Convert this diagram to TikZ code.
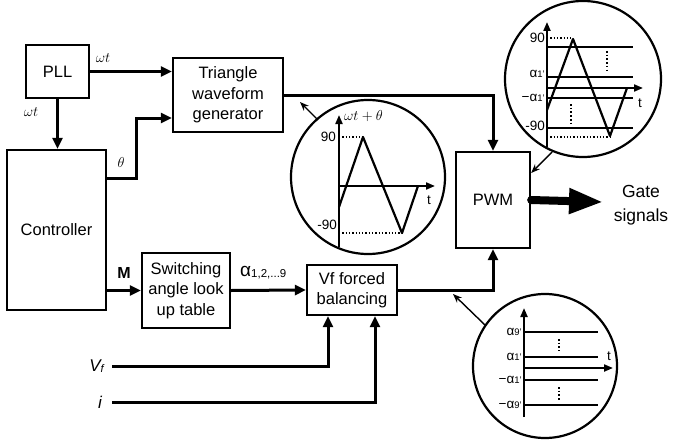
\documentclass[tikz,border=0pt]{standalone}
\usepackage{fontspec}
\setmainfont{Liberation Sans}
\usetikzlibrary{arrows.meta,calc}
\begin{document}
\begin{tikzpicture}[x=1pt,y=-1pt,
  box/.style={draw,line width=2.3pt,align=center,inner sep=0pt,font=\fontsize{16.5}{20.5}\selectfont},
  wire/.style={line width=3pt,-{Triangle[length=11pt,width=10pt]}},
  thinarrow/.style={line width=1.4pt,-{Stealth[length=9pt,width=7pt]}},
  ring/.style={draw,line width=2.2pt},
  axis/.style={line width=2pt,-{Triangle[length=9pt,width=7pt]}},
  level/.style={line width=2.2pt},
  dotline/.style={line width=1.3pt,dotted},
  lbl/.style={inner sep=0pt,font=\fontsize{15}{15}\selectfont},
  small/.style={inner sep=0pt,font=\fontsize{13.5}{13.5}\selectfont}]
\useasboundingbox (0,0) rectangle (674,444);
\fill[white] (0,0) rectangle (674,444);

% blocks
\node[box,minimum width=63,minimum height=53] (pll) at (57.5,71.5) {PLL};
\node[box,minimum width=110,minimum height=74] (tri) at (228,95) {Triangle\\waveform\\generator};
\node[box,minimum width=99,minimum height=160] (ctrl) at (56.5,230) {Controller};
\node[box,minimum width=88,minimum height=75] (sw) at (186,290.5) {Switching\\angle look\\up table};
\node[box,minimum width=90,minimum height=50] (vf) at (352,290) {Vf forced\\balancing};
\node[box,minimum width=74,minimum height=96] (pwm) at (493,200) {PWM};

% connectors
\draw[wire] (pll.east) -- (pll.east -| tri.west);
\draw[wire] (pll.south) -- (pll.south |- ctrl.north);
\draw[wire] ([yshift=-30pt]ctrl.north east) -- ++(29,0) |- ([yshift=-23pt]tri.west);
\draw[wire] (tri.east) -| (pwm.north);
\draw[wire] (sw.west -| ctrl.east) -- (sw.west);
\draw[wire] (sw.east) -- (vf.west);
\draw[wire] (vf.east) -| (pwm.south);
\coordinate (vfin) at (112,366);
\coordinate (iin) at (112,402);
\draw[wire] (vfin) -| ([xshift=-24pt]vf.south);
\draw[wire] (iin) -| ([xshift=23pt]vf.south);
\coordinate (gate) at (603,202);
\draw[line width=8pt,line cap=round,-{Triangle[length=34pt,width=24pt]}] (pwm.east) -- (gate);

% labels
\node[lbl] (l1) at (103,58) {$\omega t$};
\node[lbl] (l2) at (31,112) {$\omega t$};
\node[lbl] (l3) at (121,162) {$\theta$};
\node[inner sep=0pt,font=\bfseries\fontsize{16}{16}\selectfont] (l4) at (124,273) {M};
\node[inner sep=0pt,anchor=west] (l5) at (240,273) {\fontsize{19}{19}\selectfont α\fontsize{11.5}{11.5}\selectfont\raisebox{-1pt}{1,2,...9}};
\node[inner sep=0pt,anchor=east,font=\itshape\fontsize{17}{17}\selectfont] (l6) at (104,366) {V{\fontsize{11}{11}\selectfont\raisebox{-1pt}{f}}};
\node[inner sep=0pt,anchor=east,font=\itshape\fontsize{17}{17}\selectfont] (l7) at (102,402) {i};
\node[inner sep=0pt,align=center,font=\fontsize{17.5}{24}\selectfont] (gs) at (641,205) {Gate\\signals};

% middle circle
\node[ring,circle,minimum size=154,inner sep=0pt] (c1) at (368,177) {};
\draw[axis] (339,247) -- (339,115);
\draw[axis] (339,186) -- (435,186);
\draw[line width=2.2pt,line join=round] (339,207) -- (363,137) -- (402,233) -- (418,186);
\draw[dotline] (339,137) -- (363,137);
\draw[dotline] (339,233) -- (402,233);
\node[lbl,anchor=west] (c1a) at (344,116) {$\omega t+\theta$};
\node[small,anchor=east] (c1b) at (336,137) {90};
\node[small,anchor=east] (c1c) at (337,225) {-90};
\node[small] (c1d) at (429,200) {t};
\coordinate (c1tip) at (300,102);
\draw[thinarrow] (318,120) -- (c1tip);

% top right circle
\node[ring,circle,minimum size=156,inner sep=0pt] (c2) at (583,79) {};
\draw[axis] (547,147) -- (547,22);
\draw[axis] (547,88) -- (643,88);
\foreach \yy in {47,77,98,128} \draw[level] (547,\yy) -- (633,\yy);
\draw[line width=2.2pt,line join=round] (547,110) -- (573,39) -- (610,136) -- (627,88);
\draw[dotline] (547,38) -- (573,38);
\draw[dotline] (547,137) -- (610,137);
\draw[line width=1.7pt,dotted] (607,51) -- (607,70);
\draw[line width=1.7pt,dotted] (571,104) -- (571,124);
\node[small,anchor=east] (c2a) at (545,38) {90};
\node[small,anchor=east] (c2b) at (545,74) {α\fontsize{9.5}{9.5}\selectfont 1'};
\node[small,anchor=east] (c2c) at (545,98) {−α\fontsize{9.5}{9.5}\selectfont 1'};
\node[small,anchor=east] (c2d) at (545,126) {-90};
\node[small] (c2e) at (640,103) {t};
\draw[thinarrow] (552,152) -- (pwm.north east |- 0,173);

% bottom right circle
\node[ring,circle,minimum size=144,inner sep=0pt] (c3) at (545,366) {};
\draw[axis] (524,417) -- (524,308);
\draw[axis] (524,368) -- (613,368);
\foreach \yy in {332,357,380,405} \draw[level] (524,\yy) -- (598,\yy);
\draw[line width=1.7pt,dotted] (559,339) -- (559,351);
\draw[line width=1.7pt,dotted] (559,387) -- (559,400);
\node[small,anchor=east] (c3a) at (522,332) {α\fontsize{9.5}{9.5}\selectfont 9'};
\node[small,anchor=east] (c3b) at (522,357) {α\fontsize{9.5}{9.5}\selectfont 1'};
\node[small,anchor=east] (c3c) at (522,380) {−α\fontsize{9.5}{9.5}\selectfont 1'};
\node[small,anchor=east] (c3d) at (522,405) {−α\fontsize{9.5}{9.5}\selectfont 9'};
\node[small] (c3e) at (609,356) {t};
\coordinate (tapin) at (453,294);
\draw[thinarrow] (485,325) -- (tapin);
\end{tikzpicture}
\end{document}
